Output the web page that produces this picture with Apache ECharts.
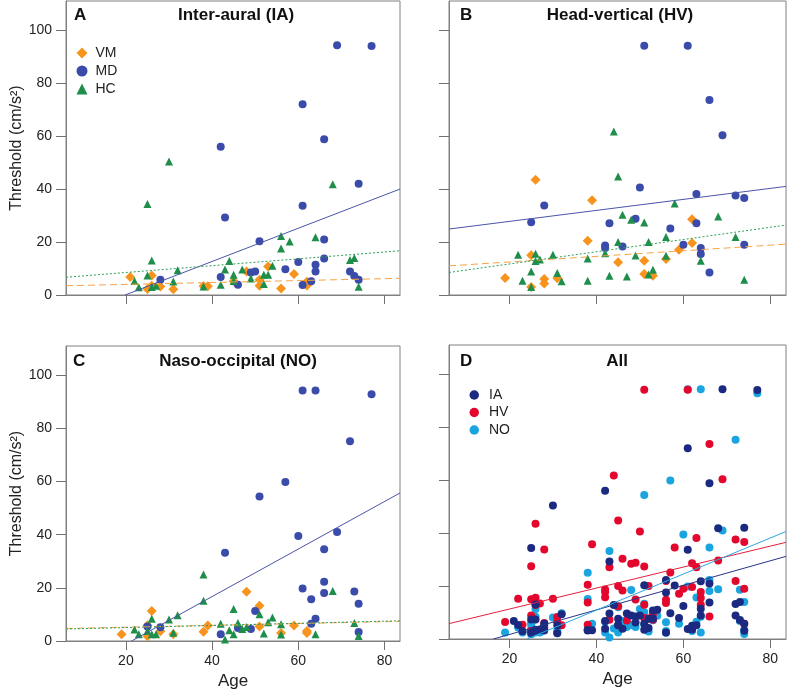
<!DOCTYPE html>
<html>
<head>
<meta charset="utf-8">
<script src="https://cdn.jsdelivr.net/npm/echarts@6/dist/echarts.min.js"></script>
<style>
html,body{margin:0;padding:0;background:#fff;}
#chart{width:787px;height:692px;}
</style>
</head>
<body>
<div id="chart"></div>
<script>
// ---------- DATA (age, threshold cm/s^2) ----------
const AGE_TICKS = [20, 40, 60, 80];
const THR_TICKS = [0, 20, 40, 60, 80, 100];
const PANEL_LETTERS = ['A', 'B', 'C', 'D'];
const PANEL_TITLES = ['Inter-aural (IA)', 'Head-vertical (HV)', 'Naso-occipital (NO)', 'All'];
const GROUPS = ['VM', 'MD', 'HC'];
const DIRECTIONS = ['IA', 'HV', 'NO'];

// Panel A: Inter-aural
const A_VM = [[21,6.8],[25,2.3],[26,7.4],[26,3.5],[28,3.2],[31,2.2],[38,3.4],[39,3.3],[45,5.2],[48,8.9],[51,5.8],[51,3.5],[53,10.8],[56,2.5],[59,7.9],[62,5.0],[62,3.6]];
const A_MD = [[28,5.8],[42,56],[42,6.8],[43,29.3],[46,3.9],[49,8.5],[50,8.9],[51,20.3],[57,9.7],[60,12.5],[61,72],[61,33.7],[61,3.8],[63,5.2],[64,11.4],[64,8.9],[66,58.8],[66,21],[66,13.8],[69,94.3],[72,8.9],[73,7.2],[74,42],[74,5.8],[77,94]];
const A_HC = [[22,5.3],[23,2.9],[25,34.4],[25,7.4],[26,13],[26,3],[27,3.5],[30,50.4],[31,5.1],[32,9.3],[38,3.2],[42,3.9],[43,9.6],[44,12.8],[45,7.6],[45,5.3],[47,9.6],[49,6.2],[52,7.6],[52,4.2],[53,7.6],[54,11],[56,22.3],[56,17.6],[58,20.2],[64,21.8],[68,41.8],[72,13.2],[73,14],[74,3.1]];
const A_FIT_VM = [[6.1,3.5],[83.6,6.3]];
const A_FIT_MD = [[19.8,0],[83.6,40]];
const A_FIT_HC = [[6.1,6.7],[83.6,16.7]];

// Panel B: Head-vertical
const B_VM = [[19,6.4],[25,15],[25,3],[26,43.5],[28,6],[28,4.3],[31,6.3],[38,20.5],[39,35.8],[45,12.4],[51,12.9],[51,7.9],[53,7.3],[56,13.6],[59,17.1],[62,28.6],[62,19.6]];
const B_MD = [[25,27.5],[28,33.8],[42,18.7],[42,17.7],[43,27.1],[46,18.3],[49,28.8],[50,40.6],[51,94.1],[57,25.1],[60,19],[61,94.1],[63,38.1],[63,27.1],[64,17.7],[64,15.5],[66,73.6],[66,8.5],[69,60.3],[72,37.6],[74,36.6],[74,19]];
const B_HC = [[22,15.2],[23,5.4],[25,8.9],[25,3],[26,15.6],[26,12.8],[27,13.4],[30,15.2],[31,8.3],[32,5.2],[38,13.8],[38,5.4],[42,15.8],[43,7.3],[44,61.7],[45,44.7],[45,20],[46,30.3],[47,7],[48,28.4],[49,14.9],[51,27.4],[52,20],[52,7.7],[53,9.5],[56,21.9],[56,14.8],[58,34.5],[64,12.9],[68,29.6],[72,21.9],[74,5.8]];
const B_FIT_VM = [[6.1,11],[83.6,19.2]];
const B_FIT_MD = [[6.1,24.9],[83.6,41]];
const B_FIT_HC = [[6.1,8.5],[83.6,26.4]];

// Panel C: Naso-occipital
const C_VM = [[19,2.5],[25,5.9],[25,1.8],[26,11.3],[28,3.7],[31,2.5],[38,3.5],[39,5.8],[48,18.5],[51,13.3],[51,5.5],[56,3],[59,5.8],[62,3.8],[62,3]];
const C_MD = [[25,5.5],[28,5.2],[42,2.5],[43,33.2],[46,4.9],[49,4.5],[50,11.3],[51,54.4],[57,59.8],[60,39.5],[61,94.3],[61,19.8],[63,15.7],[63,6.5],[64,94.3],[64,8.4],[66,34.5],[66,22.3],[66,18.1],[69,41],[72,75.2],[73,18.6],[74,14],[74,3.4],[77,92.8]];
const C_HC = [[22,4.3],[23,2.5],[25,3.8],[26,8.4],[26,2.5],[27,2.5],[30,8.1],[31,3.1],[32,9.7],[38,25],[38,15.1],[42,6.5],[43,0.6],[44,4],[45,12],[45,2.5],[46,6.8],[47,4.5],[48,5.3],[51,10.1],[52,2.8],[53,7.1],[54,8.8],[56,6.3],[56,2.4],[64,2.5],[68,18.8],[73,6.8],[74,1.9]];
const C_FIT_VM = [[6.1,4.7],[83.6,7.4]];
const C_FIT_MD = [[21.3,0],[83.6,55.7]];
const C_FIT_HC = [[6.1,4.5],[83.6,7.6]];

// Panel D: all subjects per direction (regression lines)
const D_FIT_IA = [[16.3,0],[83.6,31.2]];
const D_FIT_HV = [[6.1,5.8],[83.6,36.5]];
const D_FIT_NO = [[24,0],[83.6,40.6]];

// ---------- STYLE ----------
const FONT = '"Liberation Sans", Arial, sans-serif';
const COL = { VM:'#F7941D', MD:'#3B4BAA', HC:'#1E8E4A', IA:'#1B2A80', HV:'#E3062D', NO:'#1AA5E0' };
const FIT_COL = { VM:'#F5A445', MD:'#4A55A6', HC:'#2E9E5B', IA:'#2A3585', HV:'#E3213C', NO:'#2AA6DE' };
const X_MIN = 6.1, X_MAX = 83.6, Y_MIN = 0, Y_MAX = 111;

const gridsPos = [
  {left:66, top:1, width:334, height:294},
  {left:449, top:1, width:337, height:294},
  {left:66, top:346, width:334, height:295},
  {left:449, top:345, width:337, height:294}
];

function makeX(i, labels) {
  return {
    type:'value', gridIndex:i, min:X_MIN, max:X_MAX,
    axisLine:{show:true, lineStyle:{color:'#808080', width:1}},
    axisTick:{show:true, length:9, customValues:AGE_TICKS, lineStyle:{color:'#707070'}},
    axisLabel:{show:labels, customValues:AGE_TICKS, margin:13, fontSize:14, color:'#222', fontFamily:FONT},
    splitLine:{show:false},
    name: labels ? 'Age' : '', nameLocation:'middle', nameGap:32,
    nameTextStyle:{fontSize:17, color:'#222', fontFamily:FONT}
  };
}
function makeY(i, labels) {
  return {
    type:'value', gridIndex:i, min:Y_MIN, max:Y_MAX,
    axisLine:{show:true, lineStyle:{color:'#808080', width:1}},
    axisTick:{show:true, length:10, customValues:THR_TICKS, lineStyle:{color:'#707070'}},
    axisLabel:{show:labels, customValues:THR_TICKS, margin:14, fontSize:14, color:'#222', fontFamily:FONT},
    splitLine:{show:false},
    name: labels ? 'Threshold (cm/s²)' : '', nameLocation:'middle', nameGap:40,
    nameTextStyle:{fontSize:16, color:'#222', fontFamily:FONT}
  };
}

const SYM = { VM:['diamond',10], MD:['circle',8], HC:['triangle',8] };
const FIT_TYPE = { VM:[7,4], MD:'solid', HC:[2,2] };

const series = [];
const panelData = [
  {VM:A_VM, MD:A_MD, HC:A_HC, fit:{VM:A_FIT_VM, MD:A_FIT_MD, HC:A_FIT_HC}},
  {VM:B_VM, MD:B_MD, HC:B_HC, fit:{VM:B_FIT_VM, MD:B_FIT_MD, HC:B_FIT_HC}},
  {VM:C_VM, MD:C_MD, HC:C_HC, fit:{VM:C_FIT_VM, MD:C_FIT_MD, HC:C_FIT_HC}}
];
panelData.forEach((p, i) => {
  GROUPS.forEach(g => {
    series.push({
      type:'scatter', name:g, xAxisIndex:i, yAxisIndex:i, data:p[g],
      symbol:SYM[g][0], symbolSize:SYM[g][1],
      itemStyle:{color:COL[g], opacity:1}, emphasis:{disabled:true}, z:2
    });
  });
  GROUPS.forEach(g => {
    series.push({
      type:'line', name:g + ' fit ' + i, xAxisIndex:i, yAxisIndex:i, data:p.fit[g],
      symbol:'none', silent:true, clip:true,
      lineStyle:{color:FIT_COL[g], width:1, type:FIT_TYPE[g]}, z:3
    });
  });
});

// Panel D: combine the three groups for each direction
const D_DATA = {
  IA: A_VM.concat(A_MD, A_HC),
  HV: B_VM.concat(B_MD, B_HC),
  NO: C_VM.concat(C_MD, C_HC)
};
const D_FIT = { IA:D_FIT_IA, HV:D_FIT_HV, NO:D_FIT_NO };
['NO','HV','IA'].forEach(d => {
  series.push({
    type:'scatter', name:d, xAxisIndex:3, yAxisIndex:3, data:D_DATA[d],
    symbol:'circle', symbolSize:8, itemStyle:{color:COL[d], opacity:1},
    emphasis:{disabled:true}, z:2
  });
});
DIRECTIONS.forEach(d => {
  series.push({
    type:'line', name:d + ' fit', xAxisIndex:3, yAxisIndex:3, data:D_FIT[d],
    symbol:'none', silent:true, clip:true,
    lineStyle:{color:FIT_COL[d], width:1}, z:3
  });
});

const titleCenters = [[236,15],[620,15],[238,361],[617,361]];
const letterPos = [[74,15],[460,15],[73,361],[460,361]];
const graphic = [];
for (let i = 0; i < 4; i++) {
  graphic.push({type:'text', x:letterPos[i][0], y:letterPos[i][1],
    style:{text:PANEL_LETTERS[i], font:'bold 17px ' + FONT, fill:'#111', textAlign:'left', textVerticalAlign:'middle'}});
  graphic.push({type:'text', x:titleCenters[i][0], y:titleCenters[i][1],
    style:{text:PANEL_TITLES[i], font:'bold 17px ' + FONT, fill:'#111', textAlign:'center', textVerticalAlign:'middle'}});
}

const option = {
  animation:false,
  backgroundColor:'#fff',
  textStyle:{fontFamily:FONT},
  grid: gridsPos.map(g => Object.assign({show:true, borderColor:'#808080', borderWidth:1, backgroundColor:'transparent', containLabel:false}, g)),
  xAxis:[makeX(0,false), makeX(1,false), makeX(2,true), makeX(3,true)],
  yAxis:[makeY(0,true), makeY(1,false), makeY(2,true), makeY(3,false)],
  legend:[
    {data:GROUPS, orient:'vertical', left:71.5, top:41, itemWidth:11, itemHeight:11, itemGap:4,
     selectedMode:false, textStyle:{fontSize:14, color:'#222', fontFamily:FONT, padding:[0,0,0,3]}},
    {data:DIRECTIONS, orient:'vertical', left:464.5, top:383, itemWidth:9.5, itemHeight:9.5, itemGap:3.5,
     selectedMode:false, icon:'circle', textStyle:{fontSize:14, color:'#222', fontFamily:FONT, padding:[0,0,0,5]}}
  ],
  graphic: graphic,
  series: series
};

const chart = echarts.init(document.getElementById('chart'), null, {renderer:'canvas'});
chart.setOption(option);
</script>
</body>
</html>
